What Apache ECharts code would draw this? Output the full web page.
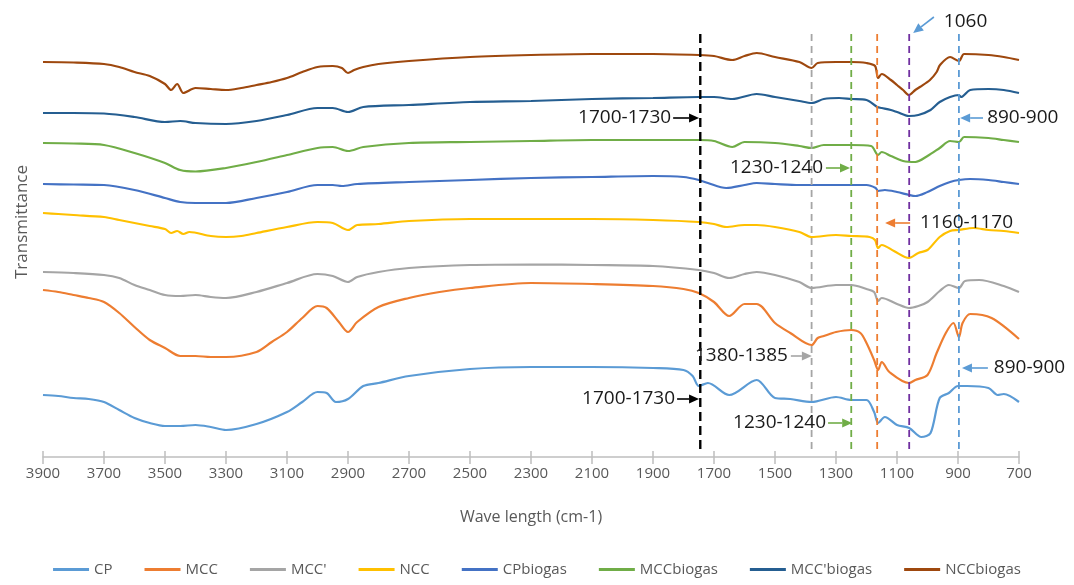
<!DOCTYPE html>
<html>
<head>
<meta charset="utf-8">
<script src="https://cdn.jsdelivr.net/npm/echarts@6/dist/echarts.min.js"></script>
<style>
  html, body { margin: 0; padding: 0; background: #fff; }
  #chart { width: 1074px; height: 585px; }
</style>
</head>
<body>
<div id="chart"></div>
<script>
// wave number ticks (cm-1)
const xTicks = [3900, 3700, 3500, 3300, 3100, 2900, 2700, 2500, 2300, 2100, 1900, 1700, 1500, 1300, 1100, 900, 700];

// [wave number, transmittance (offset, a.u.)]
const cp = [[3900,62],[3850,61],[3800,59],[3750,58],[3700,55],[3650,47],[3600,39],[3550,34],[3500,31],[3450,31],[3400,32],[3350,30],[3300,27],[3200,33],[3100,45],[3050,55],[3000,65],[2970,64],[2940,55],[2900,58],[2850,71],[2800,74],[2700,81],[2500,88],[2300,90],[2100,90],[1900,89],[1800,87],[1770,81],[1750,71],[1720,74],[1650,62],[1560,77],[1500,59],[1450,58],[1380,55],[1300,60],[1250,57],[1200,57],[1175,45],[1162,34],[1140,40],[1100,32],[1060,29],[1020,20],[990,24],[960,59],[930,64],[900,71],[870,71],[800,69],[770,62],[750,63],[700,55]];
const mcc = [[3900,167],[3850,165],[3800,162],[3750,159],[3700,155],[3650,144],[3600,130],[3550,117],[3500,109],[3450,101],[3400,101],[3350,100],[3300,100],[3200,105],[3150,115],[3100,125],[3050,139],[3000,151],[2970,149],[2930,135],[2900,125],[2870,135],[2800,150],[2700,159],[2600,165],[2500,169],[2300,174],[2100,173],[1900,171],[1800,168],[1750,164],[1700,155],[1650,141],[1600,153],[1560,153],[1500,134],[1450,124],[1380,112],[1360,119],[1340,121],[1300,125],[1250,127],[1220,124],[1200,114],[1175,97],[1162,87],[1150,95],[1125,85],[1061,74],[1040,77],[1000,82],[970,104],[940,124],[915,134],[897,120],[885,134],[860,143],[790,139],[700,118]];
const mccP = [[3900,185],[3800,184],[3700,182],[3650,179],[3600,172],[3550,167],[3500,162],[3450,161],[3400,162],[3350,160],[3300,159],[3200,165],[3100,174],[3000,183],[2950,181],[2900,175],[2870,180],[2800,185],[2700,189],[2500,192],[2300,192.5],[2100,192],[1900,191],[1750,187],[1700,184],[1650,179],[1600,183],[1560,185],[1500,182],[1420,175],[1380,169],[1300,172],[1250,172],[1200,168],[1175,165],[1162,156],[1150,159],[1100,153],[1061,149],[1030,151],[1000,155],[960,166],[930,172],[897,169],[877,176],[830,177],[750,171],[700,165]];
const ncc = [[3900,244],[3850,243],[3800,242],[3700,240],[3650,237],[3600,234],[3550,231],[3500,228],[3480,224],[3460,226],[3440,223],[3420,225],[3350,221],[3300,220],[3250,221],[3200,224],[3100,230],[3000,235],[2950,234],[2900,227],[2870,232],[2800,233],[2700,236],[2500,238],[2300,238],[2100,238],[1900,237],[1750,235],[1700,233],[1660,230],[1600,232],[1560,232],[1500,230],[1420,225],[1380,220],[1300,222],[1250,221],[1190,220],[1172,217],[1162,209],[1150,212],[1110,206],[1061,199],[1030,204],[1000,207],[960,220],[926,226],[897,227],[850,229],[800,227],[750,226],[700,224]];
const cpBiogas = [[3900,273],[3800,272.5],[3700,272],[3600,267],[3500,259],[3450,255],[3400,254],[3300,254],[3200,259],[3100,265],[3000,272],[2950,272],[2920,271],[2870,273],[2700,275],[2500,277],[2300,279],[2100,280],[1900,281],[1800,280],[1750,277],[1720,274],[1660,269],[1600,272],[1560,274],[1500,273],[1420,272],[1300,272],[1200,272],[1170,269],[1162,266],[1140,267],[1100,265],[1060,262],[1040,261],[1000,265],[960,271],[926,275],[897,277],[860,278],[800,277],[750,275],[700,273]];
const mccBiogas = [[3900,314],[3800,313.5],[3700,312],[3600,304],[3500,294],[3450,287],[3400,285.5],[3300,289],[3200,295],[3100,302],[3000,309],[2950,310],[2900,306],[2850,310],[2700,314],[2500,315],[2300,316],[2100,317],[1900,317],[1750,317],[1700,316],[1640,310],[1600,315],[1500,314],[1420,311],[1380,309],[1340,312],[1250,312],[1185,311],[1162,302],[1150,305],[1120,301],[1080,296],[1040,295],[1000,301],[960,309],[926,316],[897,315],[880,320],[800,319],[750,317],[700,315]];
const mccPBiogas = [[3900,344],[3800,344],[3700,343.5],[3600,340],[3500,335],[3450,336],[3400,334],[3300,333],[3200,336],[3100,342],[3000,349],[2950,349],[2900,345],[2850,350],[2700,352],[2500,355],[2300,356],[2100,358],[1900,359],[1750,360],[1700,360],[1640,358],[1560,363],[1500,360],[1420,356],[1380,354],[1340,358],[1290,359],[1250,358],[1200,357],[1165,350],[1150,349],[1120,347],[1100,345],[1061,341],[1030,342],[990,347],[960,355],[926,360],[897,362],[890,360],[860,367],[800,368],[750,367],[700,364]];
const nccBiogas = [[3900,395],[3800,394.5],[3700,393],[3650,390],[3600,385],[3550,381],[3500,373],[3480,367],[3460,373],[3440,364],[3400,369],[3350,368],[3300,367],[3250,369],[3200,372],[3150,375],[3100,379],[3050,385],[3000,390],[2950,391],[2920,389],[2900,384],[2880,387],[2850,390],[2800,393],[2700,396],[2500,400],[2300,402],[2100,403],[1900,403],[1750,402],[1700,401],[1640,397],[1600,401],[1560,404],[1500,400],[1420,395],[1380,389],[1360,394],[1300,395],[1250,395],[1200,394],[1172,391],[1162,379],[1150,383],[1120,377],[1100,372],[1080,367],[1061,362],[1040,367],[1025,370],[992,377],[970,385],[959,392],[926,400],[897,396],[880,403],[800,402],[750,400],[700,397]];

const seriesNames = ['CP', 'MCC', "MCC'", 'NCC', 'CPbiogas', 'MCCbiogas', "MCC'biogas", 'NCCbiogas'];
const seriesData = [cp, mcc, mccP, ncc, cpBiogas, mccBiogas, mccPBiogas, nccBiogas];
const seriesColors = ['#5B9BD5', '#ED7D31', '#A5A5A5', '#FFC000', '#4472C4', '#70AD47', '#255E91', '#9E480E'];

// marked bands (dashed guide lines)
const peakLines = [1745, 1380, 1250, 1165, 1060, 897];
const peakColors = ['#000000', '#A5A5A5', '#70AD47', '#ED7D31', '#7030A0', '#5B9BD5'];

// annotation: text anchor and arrow, in data units
const notes = [
  { text: '1060', at: [953, 435], align: 'left', from: [979, 440], to: [1047, 424], color: '#5B9BD5' },
  { text: '1700-1730', at: [1834, 339], align: 'right', from: [1834, 339], to: [1749, 339], color: '#000000' },
  { text: '890-900', at: [811, 339], align: 'left', from: [818, 339], to: [893, 339], color: '#5B9BD5' },
  { text: '1230-1240', at: [1336, 289], align: 'right', from: [1333, 289], to: [1254, 289], color: '#70AD47' },
  { text: '1160-1170', at: [1031, 234], align: 'left', from: [1057, 234], to: [1139, 234], color: '#ED7D31' },
  { text: '1380-1385', at: [1451, 101], align: 'right', from: [1448, 101], to: [1379, 101], color: '#A5A5A5' },
  { text: '890-900', at: [789, 89], align: 'left', from: [802, 89], to: [887, 89], color: '#5B9BD5' },
  { text: '1700-1730', at: [1821, 58], align: 'right', from: [1821, 58], to: [1749, 58], color: '#000000' },
  { text: '1230-1240', at: [1326, 34], align: 'right', from: [1326, 34], to: [1247, 34], color: '#70AD47' }
];

const font = '"Open Sans", "Noto Sans", sans-serif';
const axisGray = '#BFBFBF';
const textGray = '#595959';

const curveSeries = seriesData.map((d, i) => ({
  name: seriesNames[i],
  type: 'line',
  data: d,
  showSymbol: false,
  symbol: 'none',
  smooth: 0.3,
  color: seriesColors[i],
  lineStyle: { width: 2.2, color: seriesColors[i] },
  z: 2
}));

const guideSeries = peakLines.map((wn, i) => ({
  name: 'guide' + i,
  type: 'line',
  data: [[wn, 8], [wn, 425]],
  showSymbol: false,
  symbol: 'none',
  silent: true,
  lineStyle: { width: i === 0 ? 2.4 : 1.8, color: peakColors[i], type: i === 0 ? [9, 5] : [7, 5] },
  z: 3
}));

const option = {
  animation: false,
  backgroundColor: '#fff',
  textStyle: { fontFamily: font },
  grid: { left: 43, right: 55, top: 30, bottom: 128 },
  legend: {
    data: seriesNames,
    bottom: 3,
    left: 'center',
    icon: 'rect',
    itemWidth: 36,
    itemHeight: 3,
    itemGap: 32,
    textStyle: { fontSize: 15, color: textGray, fontFamily: font }
  },
  xAxis: [
    {
      type: 'value',
      min: 700,
      max: 3900,
      inverse: true,
      name: 'Wave length (cm-1)',
      nameLocation: 'middle',
      nameGap: 52,
      nameTextStyle: { fontSize: 16, color: textGray },
      axisLine: { show: true, lineStyle: { color: axisGray, width: 1.5 } },
      axisTick: { show: true, length: 7, lineStyle: { color: axisGray, width: 1.5 }, customValues: xTicks },
      axisLabel: { fontSize: 15, color: textGray, margin: 9, customValues: xTicks, formatter: (v) => String(v) },
      splitLine: { show: false }
    },
    {
      type: 'value',
      min: 700,
      max: 3900,
      inverse: true,
      position: 'bottom',
      axisLine: { show: false },
      axisTick: { show: true, inside: true, length: 6, lineStyle: { color: axisGray, width: 1.5 }, customValues: xTicks },
      axisLabel: { show: false },
      splitLine: { show: false }
    }
  ],
  yAxis: {
    type: 'value',
    min: 0,
    max: 427,
    axisLine: { show: false },
    axisTick: { show: false },
    axisLabel: { show: false },
    splitLine: { show: false }
  },
  series: curveSeries.concat(guideSeries)
};

const chart = echarts.init(document.getElementById('chart'));
chart.setOption(option);

function toPx (p) {
  return chart.convertToPixel({ xAxisIndex: 0, yAxisIndex: 0 }, p);
}

function arrow (from, to, color) {
  const a = toPx(from);
  const b = toPx(to);
  const dx = b[0] - a[0];
  const dy = b[1] - a[1];
  const len = Math.sqrt(dx * dx + dy * dy);
  const ux = dx / len;
  const uy = dy / len;
  const hl = 10;
  const hw = 4.5;
  const bx = b[0] - ux * hl;
  const by = b[1] - uy * hl;
  return [
    { type: 'line', shape: { x1: a[0], y1: a[1], x2: bx, y2: by }, style: { stroke: color, lineWidth: 1.6 }, z: 10 },
    { type: 'polygon', shape: { points: [[b[0], b[1]], [bx - uy * hw, by + ux * hw], [bx + uy * hw, by - ux * hw]] }, style: { fill: color }, z: 10 }
  ];
}

let elements = [];
notes.forEach((n) => {
  const p = toPx(n.at);
  elements.push({
    type: 'text',
    x: p[0] + (n.align === 'left' ? 2 : -2),
    y: p[1],
    z: 10,
    style: { text: n.text, fontSize: 19, fontFamily: font, fill: '#1a1a1a', align: n.align, verticalAlign: 'middle' }
  });
  elements = elements.concat(arrow(n.from, n.to, n.color));
});

elements.push({
  type: 'text',
  x: 22,
  y: 222,
  rotation: Math.PI / 2,
  style: { text: 'Transmittance', fontSize: 17, fontFamily: font, fill: textGray, align: 'center', verticalAlign: 'middle' }
});

chart.setOption({ graphic: { elements: elements } });
</script>
</body>
</html>
